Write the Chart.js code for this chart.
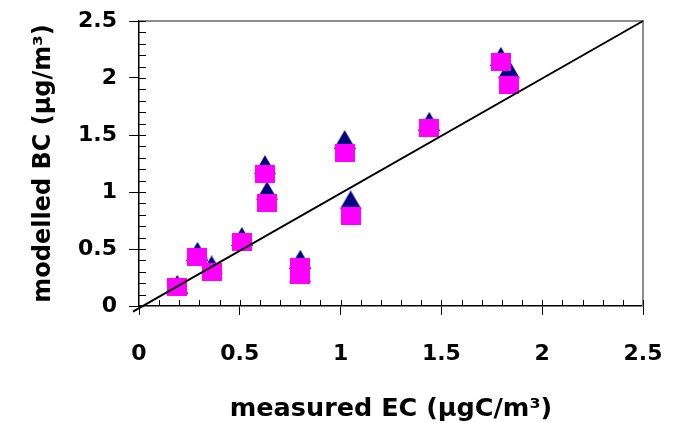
<!DOCTYPE html>
<html>
<head>
<meta charset="utf-8">
<script src="https://cdn.jsdelivr.net/npm/chart.js@4/dist/chart.umd.min.js"></script>
<style>
  html, body { margin: 0; padding: 0; background: #fff; }
  #wrap { width: 677px; height: 423px; }
</style>
</head>
<body>
<div id="wrap"><canvas id="c" width="677" height="423"></canvas></div>
<script>
// measured EC (µgC/m3) — shared x values
const measuredEC = [0.19, 0.29, 0.36, 0.51, 0.625, 0.635, 0.80, 0.80, 1.02, 1.05, 1.44, 1.795, 1.835];
// modelled BC, series 1 (navy triangles)
const modelledBC1 = [0.19, 0.48, 0.36, 0.61, 1.24, 1.01, 0.41, 0.29, 1.46, 0.93, 1.62, 2.19, 2.08];
// modelled BC, series 2 (magenta squares)
const modelledBC2 = [0.17, 0.43, 0.30, 0.56, 1.16, 0.90, 0.34, 0.27, 1.34, 0.79, 1.56, 2.14, 1.94];
// 1:1 reference line
const lineX = [-0.03, 2.5];
const lineY = [-0.05, 2.5];
// tick labels
const tickValues = [0, 0.5, 1, 1.5, 2, 2.5];
const tickLabels = ['0', '0.5', '1', '1.5', '2', '2.5'];
const xTitle = 'measured EC (\u03BCgC/m\u00B3)';
const yTitle = 'modelled BC (\u03BCg/m\u00B3)';

function makeTriangle(w, h, color) {
  const c = document.createElement('canvas');
  c.width = w; c.height = h;
  const g = c.getContext('2d');
  g.fillStyle = color;
  g.beginPath();
  g.moveTo(w / 2, 0);
  g.lineTo(w, h);
  g.lineTo(0, h);
  g.closePath();
  g.fill();
  return c;
}
function makeSquare(w, h, color) {
  const c = document.createElement('canvas');
  c.width = w; c.height = h;
  const g = c.getContext('2d');
  g.fillStyle = color;
  g.fillRect(0, 0, w, h);
  return c;
}
const triImg = makeTriangle(22, 19, '#000080');
const sqImg = makeSquare(20, 18, '#FF00FF');

const toPts = (xs, ys) => xs.map((x, i) => ({ x: x, y: ys[i] }));

const innerTicks = {
  id: 'innerTicks',
  beforeDatasetsDraw(chart) {
    const { ctx, chartArea: a, scales } = chart;
    ctx.save();
    // gray top / right frame
    ctx.strokeStyle = '#8c8c8c';
    ctx.lineWidth = 2;
    ctx.beginPath();
    ctx.moveTo(a.left, a.top);
    ctx.lineTo(a.right, a.top);
    ctx.lineTo(a.right, a.bottom);
    ctx.stroke();
    // minor / inner ticks every 0.1
    ctx.strokeStyle = '#000';
    ctx.lineWidth = 1;
    ctx.beginPath();
    for (let k = 1; k <= 25; k++) {
      const v = k / 10;
      const px = Math.round(scales.x.getPixelForValue(v)) + 0.5;
      ctx.moveTo(px, a.bottom);
      ctx.lineTo(px, a.bottom - 6);
      const py = Math.round(scales.y.getPixelForValue(v)) + 0.5;
      ctx.moveTo(a.left, py);
      ctx.lineTo(a.left + 7, py);
    }
    ctx.stroke();
    ctx.restore();
  }
};

const tickFont = { family: 'DejaVu Sans', weight: 'bold', size: 22 };

new Chart(document.getElementById('c'), {
  type: 'scatter',
  data: {
    datasets: [
      {
        label: '1:1',
        data: toPts(lineX, lineY),
        showLine: true,
        borderColor: '#000',
        borderWidth: 2,
        pointRadius: 0,
        clip: false,
        order: 0
      },
      {
        label: 'modelled BC 2',
        data: toPts(measuredEC, modelledBC2),
        pointStyle: sqImg,
        order: 1
      },
      {
        label: 'modelled BC 1',
        data: toPts(measuredEC, modelledBC1),
        pointStyle: triImg,
        order: 2
      }
    ]
  },
  options: {
    responsive: false,
    animation: false,
    events: [],
    layout: { padding: { left: 0, right: 34, top: 21, bottom: 0 } },
    plugins: { legend: { display: false }, tooltip: { enabled: false } },
    scales: {
      x: {
        type: 'linear',
        min: 0, max: 2.5,
        afterFit: (s) => { s.height = 117; s.paddingLeft = 0; s.paddingRight = 0; },
        afterBuildTicks: (s) => { s.ticks = tickValues.map(v => ({ value: v })); },
        ticks: {
          color: '#000',
          font: tickFont,
          padding: 26,
          maxRotation: 0,
          autoSkip: false,
          callback: (v) => tickLabels[tickValues.indexOf(v)]
        },
        grid: { drawOnChartArea: false, drawTicks: true, tickLength: 9, color: '#000', lineWidth: 1 },
        border: { display: true, color: '#000', width: 1.5 },
        title: {
          display: true,
          text: xTitle,
          color: '#000',
          font: { family: 'DejaVu Sans', weight: 'bold', size: 25.5, lineHeight: 1.05 },
          padding: { top: 0, bottom: 0 }
        }
      },
      y: {
        type: 'linear',
        min: 0, max: 2.5,
        afterFit: (s) => { s.width = 139; s.paddingTop = 0; s.paddingBottom = 0; },
        afterBuildTicks: (s) => { s.ticks = tickValues.map(v => ({ value: v })); },
        ticks: {
          color: '#000',
          font: tickFont,
          padding: 12,
          autoSkip: false,
          callback: (v) => tickLabels[tickValues.indexOf(v)]
        },
        grid: { drawOnChartArea: false, drawTicks: true, tickLength: 10, color: '#000', lineWidth: 1 },
        border: { display: true, color: '#000', width: 1.5 },
        title: {
          display: true,
          text: yTitle,
          color: '#000',
          font: { family: 'DejaVu Sans', weight: 'bold', size: 24 },
          padding: { top: 29, bottom: 0 }
        }
      }
    }
  },
  plugins: [innerTicks]
});
</script>
</body>
</html>
